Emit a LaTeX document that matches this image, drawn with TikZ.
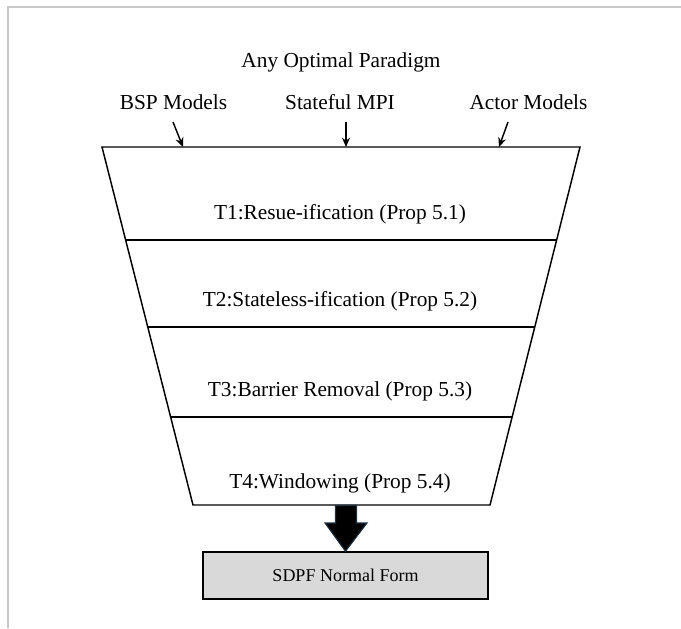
\documentclass[tikz,border=0pt]{standalone}
\usepackage{fontspec}
\setmainfont{Liberation Serif}
\usetikzlibrary{arrows.meta,calc}
\definecolor{boxgray}{RGB}{217,217,217}
\definecolor{framegray}{RGB}{200,200,200}
\definecolor{arrowedge}{RGB}{30,50,65}
\begin{document}
\begin{tikzpicture}[x=0.75pt,y=-0.75pt,
  lbl/.style={font=\fontsize{16}{19}\selectfont, inner sep=0pt},
  edgeline/.style={line width=1.1pt},
  feed/.style={line width=1.1pt,-{Stealth[length=7pt,width=6pt]}},
]
\useasboundingbox (0,0) rectangle (681,628);
% frame
\coordinate (fA) at (8,628);
\coordinate (fB) at (8,7);
\coordinate (fC) at (681,7);
\draw[framegray, line width=1pt] (fA) -- (fB) -- (fC);

% top labels
\node[lbl] (any) at (341,62) {Any Optimal Paradigm};
\node[lbl] (bsp) at (173.5,102) {BSP Models};
\node[lbl] (mpi) at (340,102) {Stateful MPI};
\node[lbl] (actor) at (528.5,102) {Actor Models};

% funnel
\coordinate (TL) at (102,147);
\coordinate (TR) at (580,147);
\coordinate (BR) at (490,505);
\coordinate (BL) at (193,505);
\draw[edgeline, line join=miter] (TL) -- (TR) -- (BR) -- (BL) -- cycle;
\foreach \t/\n in {0.2598/a,0.5028/b,0.7542/c}{
  \coordinate (L\n) at ($(TL)!\t!(BL)$);
  \coordinate (R\n) at ($(TR)!\t!(BR)$);
  \draw[edgeline] (L\n) -- (R\n);
}

% arrows into funnel
\coordinate (bspS) at (173,122);
\coordinate (bspE) at (183,147);
\coordinate (mpiS) at (346,122);
\coordinate (mpiE) at (346,147);
\coordinate (actS) at (508,122);
\coordinate (actE) at (499,147);
\draw[feed] (bspS) -- (bspE);
\draw[feed] (mpiS) -- (mpiE);
\draw[feed] (actS) -- (actE);

% stage labels
\node[lbl] (t1) at (340,214) {T1:Resue-ification (Prop 5.1)};
\node[lbl] (t2) at (340,301) {T2:Stateless-ification (Prop 5.2)};
\node[lbl] (t3) at (340,391) {T3:Barrier Removal (Prop 5.3)};
\node[lbl] (t4) at (340,483) {T4:Windowing (Prop 5.4)};

% normal form box
\node[draw, fill=boxgray, line width=1.1pt, minimum width=213.75pt, minimum height=35.25pt,
      font=\fontsize{13.5}{16}\selectfont, inner sep=0pt] (nf) at (345.5,575.5) {SDPF Normal Form};

% block arrow
\coordinate (ba1) at (335.5,505.5);
\coordinate (ba2) at (356.5,505.5);
\coordinate (ba3) at (356.5,523);
\coordinate (ba4) at (367,523);
\coordinate (ba5) at (325,523);
\coordinate (ba6) at (335.5,523);
\draw[fill=black, draw=arrowedge, line width=0.8pt, line join=miter]
  (ba1) -- (ba2) -- (ba3) -- (ba4) -- (nf.north) -- (ba5) -- (ba6) -- cycle;
\end{tikzpicture}
\end{document}
